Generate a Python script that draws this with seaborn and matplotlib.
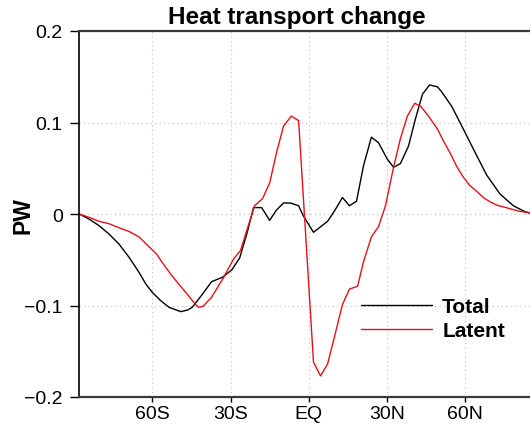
import numpy as np
import pandas as pd
import seaborn as sns
import matplotlib
matplotlib.use("Agg")
import matplotlib.pyplot as plt

# ---- data ----
total_lat = [-88, -84.3, -80.4, -76.6, -72.8, -68.9, -65.1, -62.5, -60.0, -56.8,
             -53.6, -49.1, -46.5, -44.7, -40.6, -37.3, -33,
             -29.5, -26.5, -23.6, -21.2, -18.1, -15, -12.5, -9.7, -7, -3.9, -2.1,
             1.8, 7.2, 10, 12.9, 15.6, 18.3, 21, 24, 26.7, 30.1, 32.5, 35.1, 38.2,
             40.9, 43.6, 46.3, 49.3, 50.9, 54.8, 58.6, 63.1, 68.2, 73.3, 78.4,
             82.9, 85, 88]
total_val = [0.0, -0.0055, -0.0128, -0.0219, -0.0328, -0.0474, -0.0638, -0.0765,
             -0.0856, -0.0947, -0.102, -0.1067, -0.105, -0.102,
             -0.087, -0.074, -0.069, -0.061, -0.048, -0.020, 0.007, 0.007, -0.007,
             0.004, 0.012, 0.012, 0.009, -0.002, -0.020, -0.008, 0.004, 0.018, 0.009,
             0.014, 0.053, 0.084, 0.078, 0.060, 0.051, 0.055, 0.074, 0.104, 0.131,
             0.141, 0.139, 0.1337, 0.1177, 0.0965, 0.071, 0.0426, 0.0219, 0.0091,
             0.0025, 0.001, 0.0]

latent_lat = [-88, -84.3, -80.4, -76.6, -72.8, -69, -65.1, -61.9, -58.3, -56.2,
              -53.4, -50.6, -46.8, -43.7, -42.3, -40.6,
              -37.3, -33, -28.8, -26.2, -20.8, -17.7, -15, -12.3, -9.7, -6.7, -3.9,
              1.8, 4.5, 7.2, 9.6, 12.9, 15.6, 18.7, 21, 24, 26.7, 29.4, 32.5, 35.1,
              37.8, 40.6, 42.8, 45.9, 49.3, 51.6, 54.3, 56.7, 59.3, 61.8, 64.7,
              66.9, 69.7, 72.0, 76.1, 80.3, 85, 88]
latent_val = [0.0, -0.0036, -0.008, -0.0106, -0.015, -0.019, -0.025, -0.034,
              -0.044, -0.053, -0.064, -0.074, -0.087, -0.098,
              -0.102, -0.101, -0.091, -0.071, -0.049, -0.040, 0.009, 0.017, 0.034,
              0.068, 0.096, 0.107, 0.102, -0.162, -0.177, -0.164, -0.137, -0.099,
              -0.082, -0.079, -0.052, -0.025, -0.014, 0.009, 0.051, 0.082, 0.107,
              0.121, 0.118, 0.107, 0.093, 0.080, 0.066, 0.052, 0.040, 0.031, 0.024,
              0.018, 0.013, 0.0098, 0.0066, 0.0033, 0.001, 0.0]

series_names = ["Total", "Latent"]
series_colors = ["black", "#e8101a"]
xtick_pos = [-60, -30, 0, 30, 60]
xtick_labels = ["60S", "30S", "EQ", "30N", "60N"]
ytick_pos = [-0.2, -0.1, 0, 0.1, 0.2]
ytick_labels = ["\u22120.2", "\u22120.1", "0", "0.1", "0.2"]

df = pd.concat([
    pd.DataFrame({"lat": total_lat, "val": total_val, "series": "Total"}),
    pd.DataFrame({"lat": latent_lat, "val": latent_val, "series": "Latent"}),
], ignore_index=True)

sns.set_theme(style="white")
plt.rcParams["font.family"] = ["Liberation Sans", "DejaVu Sans"]
plt.rcParams["text.color"] = "black"
plt.rcParams["axes.labelcolor"] = "black"
plt.rcParams["xtick.color"] = "black"
plt.rcParams["ytick.color"] = "black"

W, H = 530, 431
fig = plt.figure(figsize=(W / 100, H / 100), dpi=100)
x0, x1 = 79.3, 538.3
y0, y1 = 32, 398
ax = fig.add_axes([x0 / W, 1 - y1 / H, (x1 - x0) / W, (y1 - y0) / H])

sns.lineplot(data=df, x="lat", y="val", hue="series", hue_order=series_names,
             palette=series_colors, sort=False, estimator=None, lw=1.0, ax=ax)

ax.set_xlim(-88, 88)
ax.set_ylim(-0.2, 0.2)
ax.set_xticks(xtick_pos)
ax.set_xticklabels(xtick_labels)
ax.set_yticks(ytick_pos)
ax.set_yticklabels(ytick_labels)
ax.set_xlabel("")
ax.set_ylabel("")

ax.tick_params(axis="both", which="major", direction="out", labelsize=14,
               colors="black", labelcolor="black", width=1.0)
ax.tick_params(axis="y", length=6.5, pad=5.5, left=True)
ax.tick_params(axis="x", length=3.5, pad=2.5, bottom=True)

ax.grid(True, linestyle=(0, (1, 3)), color="#bdbdbd", linewidth=0.8)

for s in ["top", "bottom"]:
    ax.spines[s].set_color("#3a3a3a")
    ax.spines[s].set_linewidth(1.6)
    ax.spines[s].set_linestyle((0, (4, 1)))
ax.spines["left"].set_color("black")
ax.spines["left"].set_linewidth(1.2)
ax.spines["right"].set_visible(False)

handles, labels = ax.get_legend_handles_labels()
leg = ax.legend(handles=handles, labels=labels, loc="upper left",
                bbox_to_anchor=(361 / W, 1 - 298 / H), bbox_transform=fig.transFigure,
                frameon=False, handlelength=3.4, handletextpad=0.5, labelspacing=0.25,
                borderpad=0, borderaxespad=0,
                prop={"family": "Liberation Sans", "weight": "bold", "size": 15})
for t in leg.get_texts():
    t.set_color("black")

fig.text(296.7 / W, 1 - 24 / H, "Heat transport change", ha="center",
         va="baseline", fontsize=17.5, fontweight="bold", color="black")
fig.text(23 / W, 1 - 216 / H, "PW", ha="center", va="center", rotation=90,
         fontsize=16.5, fontweight="bold", color="black")

fig.savefig("out.png", dpi=100)
